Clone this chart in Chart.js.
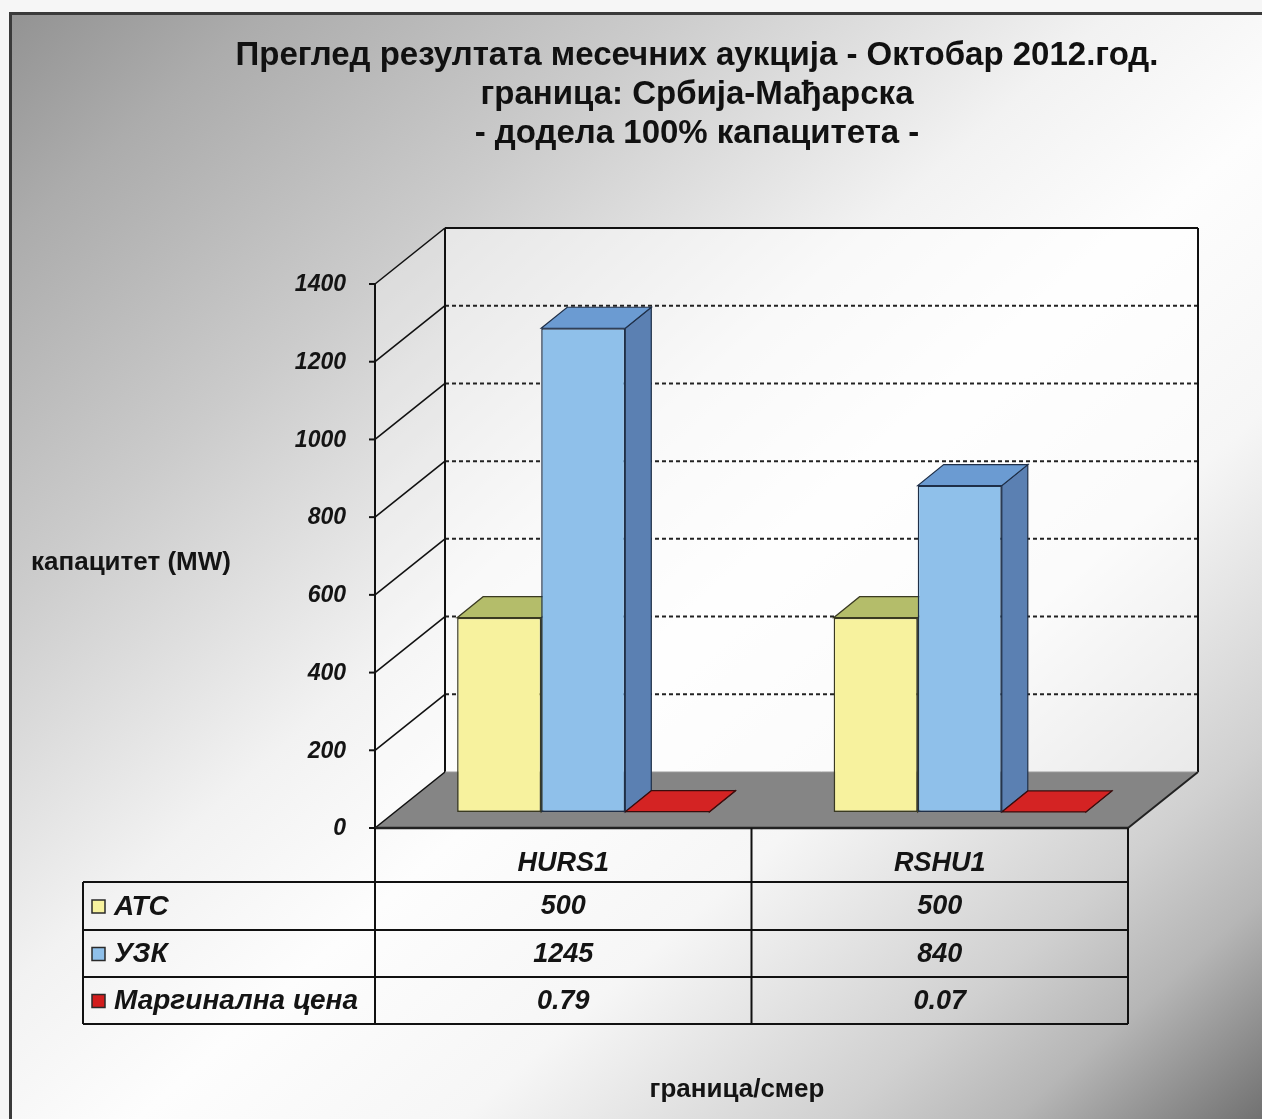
<!DOCTYPE html>
<html>
<head>
<meta charset="utf-8">
<title>Преглед резултата месечних аукција - Октобар 2012</title>
<script src="https://cdn.jsdelivr.net/npm/chart.js@4.4.1/dist/chart.umd.min.js"></script>
<style>
  html, body { margin: 0; padding: 0; background: #f6f6f6; }
  body { width: 1262px; height: 1119px; position: relative; overflow: hidden; }
  #panel {
    position: absolute; left: 9px; top: 12px; right: 0; bottom: 0;
    border-left: 3px solid #3a3a3a; border-top: 3px solid #3a3a3a;
    background: linear-gradient(to bottom right, #939393 0%, #acacac 10%, #cbcbcb 26%, #f2f2f2 44%, #fdfdfd 55%, #f6f6f6 68%, #d0d0d0 83%, #b6b6b6 90%, #717171 100%);
  }
  #chart { position: absolute; left: 0; top: 0; }
</style>
</head>
<body>
<div id="panel"></div>
<canvas id="chart" width="1262" height="1119"></canvas>
<script>
/* ====== DATA ====== */
const categories = ['HURS1', 'RSHU1'];
const seriesNames = ['АТС', 'УЗК', 'Маргинална цена'];
const atcValues = [500, 500];
const uzkValues = [1245, 840];
const priceValues = [0.79, 0.07];
const priceLabels = ['0.79', '0.07'];
const yTicks = [0, 200, 400, 600, 800, 1000, 1200, 1400];
const titleLines = ['Преглед резултата месечних аукција - Октобар 2012.год.', 'граница: Србија-Мађарска', '- додела 100% капацитета -'];

/* ====== STYLE ====== */
const FONT = "'Liberation Sans', Arial, sans-serif";
const frontColors = ['#f7f29e', '#8fc0ea', '#d21d1d'];
const topColors = ['#b4bd6a', '#6b9bd2', '#d42323'];
const sideColors = ['#c7c070', '#5b80b2', '#9c1414'];
const edgeColors = ['#3a3a22', '#1f2f48', '#3a0d0d'];

// 3D offsets measured from the bar plane (the chart area)
const FRONT = { dx: -20, dy: 16 };
const BACK = { dx: 50, dy: -40 };
const DEPTH = { dx: 26, dy: -21 };

function poly(ctx, pts, fill, stroke, lw) {
  ctx.beginPath();
  ctx.moveTo(pts[0][0], pts[0][1]);
  for (let i = 1; i < pts.length; i++) ctx.lineTo(pts[i][0], pts[i][1]);
  ctx.closePath();
  if (fill) { ctx.fillStyle = fill; ctx.fill(); }
  if (stroke) { ctx.strokeStyle = stroke; ctx.lineWidth = lw || 1; ctx.stroke(); }
}

function line(ctx, x1, y1, x2, y2, color, lw) {
  ctx.beginPath();
  ctx.moveTo(x1, y1);
  ctx.lineTo(x2, y2);
  ctx.strokeStyle = color;
  ctx.lineWidth = lw;
  ctx.stroke();
}

const box3d = {
  id: 'box3d',
  beforeDatasetsDraw(chart) {
    const ctx = chart.ctx;
    const area = chart.chartArea;
    const ys = chart.scales.y;
    const L = area.left, R = area.right;
    const y0 = ys.getPixelForValue(yTicks[0]);
    const yTop = ys.getPixelForValue(yTicks[yTicks.length - 1]);
    ctx.save();

    // side wall
    poly(ctx, [[L + FRONT.dx, yTop + FRONT.dy], [L + BACK.dx, yTop + BACK.dy],
               [L + BACK.dx, y0 + BACK.dy], [L + FRONT.dx, y0 + FRONT.dy]], 'rgba(255,255,255,0.3)');
    // back wall
    ctx.fillStyle = 'rgba(255,255,255,0.5)';
    ctx.fillRect(L + BACK.dx, yTop + BACK.dy, R - L, y0 - yTop);
    // floor
    poly(ctx, [[L + FRONT.dx, y0 + FRONT.dy], [R + FRONT.dx, y0 + FRONT.dy],
               [R + BACK.dx, y0 + BACK.dy], [L + BACK.dx, y0 + BACK.dy]], '#858585');

    // dotted grid lines on the back wall
    ctx.setLineDash([4, 3]);
    yTicks.forEach(v => {
      if (v === yTicks[0] || v === yTicks[yTicks.length - 1]) return;
      const yy = ys.getPixelForValue(v) + BACK.dy;
      line(ctx, L + BACK.dx, yy, R + BACK.dx, yy, '#222', 2);
    });
    ctx.setLineDash([]);

    // diagonal lines on side wall
    yTicks.forEach(v => {
      const yy = ys.getPixelForValue(v);
      line(ctx, L + FRONT.dx, yy + FRONT.dy, L + BACK.dx, yy + BACK.dy, '#111', 1.6);
    });

    // back wall frame
    line(ctx, L + BACK.dx, yTop + BACK.dy, R + BACK.dx, yTop + BACK.dy, '#111', 2);
    line(ctx, L + BACK.dx, yTop + BACK.dy, L + BACK.dx, y0 + BACK.dy, '#111', 2);
    line(ctx, R + BACK.dx, yTop + BACK.dy, R + BACK.dx, y0 + BACK.dy, '#111', 2);
    line(ctx, L + BACK.dx, y0 + BACK.dy, R + BACK.dx, y0 + BACK.dy, '#9a9a9a', 1);
    // floor right edge
    line(ctx, R + FRONT.dx, y0 + FRONT.dy, R + BACK.dx, y0 + BACK.dy, '#222', 2);

    // front axis with ticks and labels
    line(ctx, L + FRONT.dx, yTop + FRONT.dy, L + FRONT.dx, y0 + FRONT.dy, '#111', 2);
    ctx.font = 'italic bold 23px ' + FONT;
    ctx.fillStyle = '#141414';
    ctx.textAlign = 'right';
    ctx.textBaseline = 'middle';
    yTicks.forEach(v => {
      const yy = ys.getPixelForValue(v) + FRONT.dy;
      line(ctx, L + FRONT.dx - 6, yy, L + FRONT.dx, yy, '#111', 2);
      ctx.fillText(String(v), L + FRONT.dx - 29, yy + 1);
    });

    // side and top faces of the bars
    chart.data.datasets.forEach((ds, di) => {
      const meta = chart.getDatasetMeta(di);
      meta.data.forEach(el => {
        const l = el.x - el.width / 2, r = el.x + el.width / 2;
        const t = Math.min(el.y, el.base), b = Math.max(el.y, el.base);
        poly(ctx, [[r, t], [r + DEPTH.dx, t + DEPTH.dy], [r + DEPTH.dx, b + DEPTH.dy], [r, b]],
             sideColors[di], edgeColors[di], 1.2);
        poly(ctx, [[l, t], [r, t], [r + DEPTH.dx, t + DEPTH.dy], [l + DEPTH.dx, t + DEPTH.dy]],
             topColors[di], edgeColors[di], 1.2);
      });
    });
    ctx.restore();
  },
  afterDraw(chart) {
    const ctx = chart.ctx;
    const area = chart.chartArea;
    const ys = chart.scales.y;
    const xs = chart.scales.x;
    const L = area.left, R = area.right;
    const y0 = ys.getPixelForValue(yTicks[0]);
    ctx.save();

    // title
    ctx.fillStyle = '#111';
    ctx.textAlign = 'center';
    ctx.textBaseline = 'alphabetic';
    ctx.font = 'bold 33px ' + FONT;
    titleLines.forEach((t, i) => {
      ctx.fillText(t, 697, 65 + i * 39);
    });

    // floor front edge
    line(ctx, L + FRONT.dx, y0 + FRONT.dy, R + FRONT.dx, y0 + FRONT.dy, '#222', 2.5);

    // data table
    const headTop = y0 + FRONT.dy;
    const rowLines = [882, 930, 977, 1024];
    const tableLeft = 83;
    const mid = (xs.getPixelForValue(0) + xs.getPixelForValue(1)) / 2 + FRONT.dx;
    const colEdges = [L + FRONT.dx, mid, R + FRONT.dx];
    colEdges.forEach(x => line(ctx, x, headTop, x, rowLines[rowLines.length - 1], '#111', 2));
    line(ctx, tableLeft, rowLines[0], tableLeft, rowLines[rowLines.length - 1], '#111', 2);
    rowLines.forEach(y => line(ctx, tableLeft, y, colEdges[2], y, '#111', 2));

    ctx.font = 'italic bold 27px ' + FONT;
    ctx.fillStyle = '#141414';
    ctx.textBaseline = 'middle';
    ctx.textAlign = 'center';
    categories.forEach((c, i) => {
      ctx.fillText(c, xs.getPixelForValue(i) + FRONT.dx, (headTop + rowLines[0]) / 2 + 9);
    });
    const rows = [atcValues.map(String), uzkValues.map(String), priceLabels];
    rows.forEach((vals, ri) => {
      const cy = (rowLines[ri] + rowLines[ri + 1]) / 2 + 1;
      ctx.font = 'italic bold 27px ' + FONT;
      vals.forEach((v, i) => {
        ctx.textAlign = 'center';
        ctx.fillText(v, xs.getPixelForValue(i) + FRONT.dx, cy);
      });
      // legend key + series name
      ctx.fillStyle = frontColors[ri];
      ctx.fillRect(92, cy - 7, 13, 13);
      ctx.strokeStyle = '#2a2a2a';
      ctx.lineWidth = 1.5;
      ctx.strokeRect(92, cy - 7, 13, 13);
      ctx.fillStyle = '#141414';
      ctx.textAlign = 'left';
      ctx.font = 'italic bold 28px ' + FONT;
      ctx.fillText(seriesNames[ri], 114, cy);
    });

    // axis titles
    ctx.font = 'bold 26px ' + FONT;
    ctx.textAlign = 'left';
    ctx.fillText('капацитет (MW)', 31, 563);
    ctx.font = 'bold 26px ' + FONT;
    ctx.textAlign = 'center';
    ctx.fillText('граница/смер', 737, 1090);
    ctx.restore();
  }
};

/* ====== CHART ====== */
const ctx = document.getElementById('chart').getContext('2d');
new Chart(ctx, {
  type: 'bar',
  data: {
    labels: categories,
    datasets: [atcValues, uzkValues, priceValues].map((vals, i) => ({
      label: seriesNames[i],
      data: vals,
      backgroundColor: frontColors[i],
      borderColor: edgeColors[i],
      borderWidth: 1.5,
      borderSkipped: false,
      categoryPercentage: 0.67,
      barPercentage: 1.0
    }))
  },
  options: {
    responsive: false,
    animation: false,
    layout: { padding: { left: 395, right: 114, top: 268, bottom: 307 } },
    scales: {
      x: { display: false },
      y: { display: false, min: 0, max: 1400, ticks: { stepSize: 200 } }
    },
    plugins: {
      legend: { display: false },
      tooltip: { enabled: false },
      title: { display: false }
    }
  },
  plugins: [box3d]
});
</script>
</body>
</html>
